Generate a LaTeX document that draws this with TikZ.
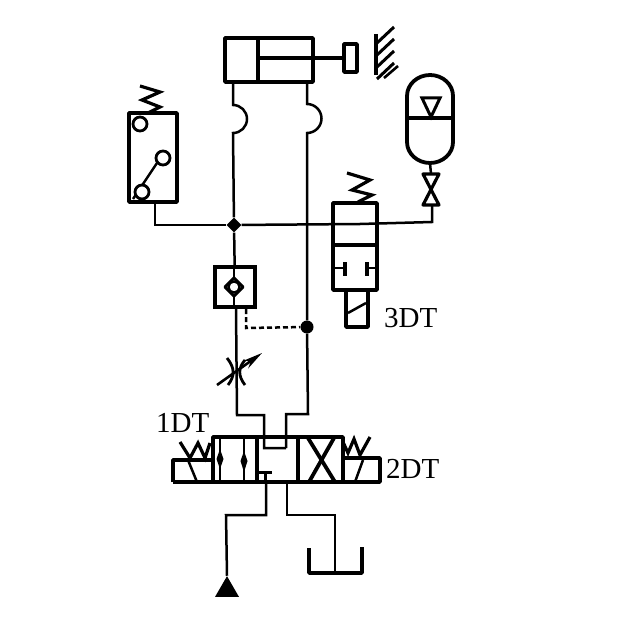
\documentclass[tikz,border=0pt]{standalone}
\usepackage{fontspec}
\setmainfont{Liberation Serif}
\usetikzlibrary{arrows.meta,shapes.geometric}
\tikzset{
  tubo/.style={line width=2.5pt,line join=miter},
  caja/.style={line width=3.8pt,line join=round},
  muelle/.style={line width=3.2pt,line join=miter},
  junta/.style={circle,fill=black,inner sep=0pt,minimum size=13pt},
  rotulo/.style={anchor=base west,inner sep=0pt,font=\fontsize{29}{29}\selectfont},
}
\begin{document}
\begin{tikzpicture}[x=1pt,y=-1pt]
    \useasboundingbox (0,0) rectangle (616,628);

    % Paso 1: Define puntos de las tuberias
    \coordinate (cilL) at (233,82);
    \coordinate (cilR) at (307,82);
    \coordinate (swB) at (155,202);
    \coordinate (vaT) at (432,206);
    \node[diamond,fill=black,inner sep=0pt,minimum size=15pt] (J1) at (234,225) {};
    \node[junta] (J2) at (307,327) {};

    % Paso 2: Cilindro, vastago y tope
    \draw[caja] (225,38) rectangle (313,82);
    \draw[caja] (258,38) -- (258,82);
    \draw[line width=4pt] (258,58) -- (344,58);
    \draw[caja] (344,44) rectangle (357,72);
    \draw[line width=3.6pt] (376,34) -- (376,75);
    \foreach \yy in {34,46,58,70}
        \draw[line width=3pt] (377,\yy+9) -- (394,\yy-7);
    \draw[line width=2.6pt] (384,78) -- (398,66);

    % Paso 3: Tuberias del cilindro con sus saltos
    \draw[tubo] (cilL) -- (233,105) arc (-90:90:14) -- (J1);
    \draw[tubo] (cilR) -- (307,104) arc (-90:90:14.5) -- (J2);

    % Paso 4: Presostato
    \draw[caja] (129,113) rectangle (177,202);
    \draw[line width=2.8pt,fill=white] (140,124) circle (7);
    \draw[line width=2.8pt,fill=white] (163,158) circle (7);
    \draw[line width=2.4pt] (133,199) -- (157,163);
    \draw[line width=2.8pt,fill=white] (142,192) circle (7);
    \draw[muelle] (140,86) -- (160,92) -- (142,100) -- (160,107) -- (148,113);
    \draw[tubo] (swB) |- (J1);

    % Paso 5: Acumulador y llave
    \draw[caja] (407,118) -- (407,96) arc (180:360:23 and 21) -- (453,142) arc (0:180:23 and 21) -- cycle;
    \draw[caja] (407,118) -- (453,118);
    \draw[line width=3pt] (422,98) -- (440,98) -- (431,117) -- cycle;
    \draw[tubo] (430,163) -- (431,174);
    \draw[line width=3.2pt,line join=round] (423,174) -- (439,174) -- (423,205) -- (439,205) -- cycle;
    \draw[tubo] (J1) -- (360,224) -- (432,222) -- (vaT);

    % Paso 6: Valvula de dos vias con solenoide
    \draw[caja] (333,203) rectangle (377,290);
    \draw[caja] (333,245) -- (377,245);
    \draw[tubo] (335,268) -- (345,268);
    \draw[caja] (345,262) -- (345,276);
    \draw[tubo] (367,268) -- (377,268);
    \draw[caja] (367,262) -- (367,276);
    \draw[caja] (346,290) -- (346,327) -- (368,327) -- (368,290);
    \draw[tubo] (348,313) -- (366,303);
    \draw[muelle] (347,173) -- (370,180) -- (352,190) -- (372,195) -- (358,202);
    \node[rotulo] (et3) at (384,327) {3DT};

    % Paso 7: Antirretorno y estrangulador
    \node[draw,line width=3.8pt,minimum size=40pt,inner sep=0pt,fill=white] (chk) at (235,287) {};
    \draw[tubo] (J1) -- (chk);
    \draw[tubo] (234,265) -- (234,279);
    \draw[line width=3pt,line join=round] (225,287) -- (234,278) -- (243,287) -- (234,296) -- cycle;
    \draw[line width=2.2pt,fill=white] (234,287) circle (5.5);
    \draw[tubo] (234,295) -- (234,309);
    \draw[tubo] (236,309) -- (237,415) -- (264,415) -- (264,448) -- (286,448);
    \draw[tubo,dash pattern=on 5pt off 3pt] (246,309) -- (246,328) -- (J2);
    \draw[line width=2.8pt] (227,358) .. controls (235,368) and (235,376) .. (228,385);
    \draw[line width=2.8pt] (245,360) .. controls (238,368) and (238,376) .. (245,385);
    \draw[line width=2.6pt,-{Stealth[length=20pt,width=9pt]}] (217,385) -- (262,353);

    % Paso 8: Valvula de cuatro vias
    \draw[tubo] (J2) -- (308,414) -- (286,414) -- (286,448);
    \draw[caja] (213,437) rectangle (343,482);
    \draw[caja] (173,482) -- (173,460) -- (213,460);
    \draw[caja] (173,482) -- (213,482);
    \draw[caja] (343,458) -- (380,458) -- (380,482) -- (343,482);
    \draw[tubo] (188,460) -- (197,482);
    \draw[tubo] (363,460) -- (355,482);
    \draw[caja] (257,437) -- (257,482);
    \draw[caja] (298,437) -- (298,482);
    % flechas de la primera celda
    \draw[tubo] (220,437) -- (220,482);
    \draw[tubo] (244,437) -- (244,482);
    \fill (220,449) -- (223.5,459) -- (220,469) -- (216.5,459) -- cycle;
    \fill (244,451) -- (247.5,461) -- (244,472) -- (240.5,461) -- cycle;
    % celda central
    \draw[line width=3pt] (258,472) -- (272,472);
    \draw[line width=3pt] (265,472) -- (265,482);
    % celda en X
    \draw[line width=3.8pt] (309,482) -- (334,438);
    \draw[line width=3.8pt] (308,438) -- (335,482);
    \draw[muelle] (180,442) -- (190,458) -- (198,443) -- (205,458) -- (210,443);
    \draw[muelle] (343,442) -- (348,453) -- (354,439) -- (360,455) -- (370,437);
    \node[rotulo] (et1) at (156,432) {1DT};
    \node[rotulo] (et2) at (386,478) {2DT};

    % Paso 9: Bomba y deposito
    \node[isosceles triangle,isosceles triangle apex angle=60,shape border rotate=90,fill=black,inner sep=0pt,minimum height=19pt,minimum width=24pt] (bom) at (227,590) {};
    \draw[tubo] (266,482) -- (266,515) -- (226,515) -- (bom.apex);
    \draw[tubo] (287,482) -- (287,515) -- (335,515) -- (335,573);
    \draw[caja] (309,548) -- (309,573) -- (362,573) -- (362,547);
\end{tikzpicture}
\end{document}
